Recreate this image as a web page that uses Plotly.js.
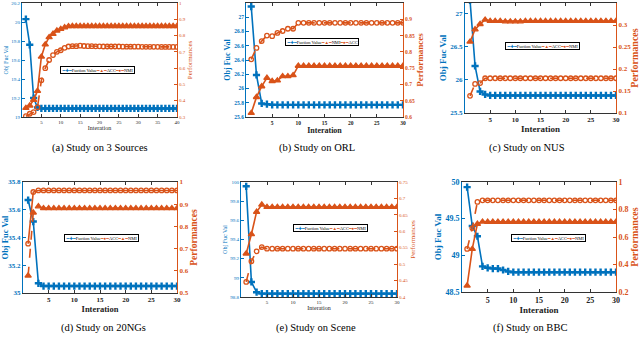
<!DOCTYPE html>
<html>
<head>
<meta charset="utf-8">
<script src="https://cdn.plot.ly/plotly-3.0.1.min.js"></script>
<style>
  html, body { margin: 0; padding: 0; background: white; }
  #graph { width: 640px; height: 350px; }
</style>
</head>
<body>
<div id="graph"></div>
<script>
// iteration indices
const iter40 = [1,2,3,4,5,6,7,8,9,10,11,12,13,14,15,16,17,18,19,20,21,22,23,24,25,26,27,28,29,30,31,32,33,34,35,36,37,38,39,40];
const iter30 = [1,2,3,4,5,6,7,8,9,10,11,12,13,14,15,16,17,18,19,20,21,22,23,24,25,26,27,28,29,30];
const xTicks40 = [5,10,15,20,25,30,35,40];
const xTicks30 = [5,10,15,20,25,30];

// (a) 3 Sources
const objA = [20.03,19.76,19.2,19.1,19.09,19.09,19.09,19.09,19.09,19.09,19.09,19.09,19.09,19.09,19.09,19.09,19.09,19.09,19.09,19.09,
              19.09,19.09,19.09,19.09,19.09,19.09,19.09,19.09,19.09,19.09,19.09,19.09,19.09,19.09,19.09,19.09,19.09,19.09,19.09,19.09];
const accA = [0.355,0.37,0.405,0.46,0.67,0.745,0.79,0.81,0.83,0.84,0.85,0.857,0.858,0.858,0.858,0.858,0.858,0.858,0.858,0.858,
              0.858,0.858,0.858,0.858,0.858,0.858,0.858,0.858,0.858,0.858,0.858,0.858,0.858,0.858,0.858,0.858,0.858,0.858,0.858,0.858];
const nmiA = [0.305,0.32,0.33,0.36,0.525,0.6,0.65,0.68,0.7,0.71,0.725,0.733,0.735,0.735,0.738,0.736,0.735,0.735,0.734,0.734,
              0.733,0.733,0.733,0.733,0.733,0.732,0.732,0.732,0.732,0.732,0.731,0.731,0.731,0.731,0.731,0.73,0.73,0.73,0.73,0.73];

// (b) ORL
const objB = [27.15,26.19,25.79,25.78,25.77,25.77,25.77,25.77,25.77,25.77,25.77,25.77,25.77,25.77,25.77,
              25.77,25.77,25.77,25.77,25.77,25.77,25.77,25.77,25.77,25.77,25.77,25.77,25.77,25.77,25.77];
const nmiB = [0.612,0.661,0.694,0.72,0.71,0.712,0.725,0.725,0.728,0.757,0.757,0.757,0.757,0.757,0.757,
              0.757,0.757,0.757,0.757,0.757,0.757,0.757,0.757,0.757,0.757,0.757,0.757,0.757,0.757,0.757];
const accB = [0.777,0.812,0.833,0.85,0.848,0.858,0.864,0.871,0.871,0.889,0.889,0.889,0.889,0.889,0.889,
              0.889,0.889,0.889,0.889,0.889,0.889,0.889,0.889,0.889,0.889,0.889,0.889,0.889,0.889,0.889];

// (c) NUS
const objC = [27.2,26.21,25.825,25.78,25.765,25.765,25.765,25.765,25.765,25.765,25.765,25.765,25.765,25.765,25.765,
              25.765,25.765,25.765,25.765,25.765,25.765,25.765,25.765,25.765,25.765,25.765,25.765,25.765,25.765,25.765];
const accC = [0.262,0.29,0.302,0.312,0.309,0.309,0.309,0.308,0.308,0.308,0.308,0.309,0.309,0.309,0.309,
              0.309,0.309,0.309,0.309,0.309,0.309,0.309,0.309,0.309,0.309,0.309,0.309,0.309,0.309,0.309];
const nmiC = [0.139,0.166,0.168,0.179,0.179,0.179,0.179,0.179,0.179,0.179,0.179,0.179,0.179,0.179,0.179,
              0.179,0.179,0.179,0.179,0.179,0.179,0.179,0.179,0.179,0.179,0.179,0.179,0.179,0.179,0.179];

// (d) 20NGs
const objD = [35.67,35.515,35.07,35.05,35.05,35.05,35.05,35.05,35.05,35.05,35.05,35.05,35.05,35.05,35.05,
              35.05,35.05,35.05,35.05,35.05,35.05,35.05,35.05,35.05,35.05,35.05,35.05,35.05,35.05,35.05];
const accD = [0.722,0.955,0.962,0.962,0.962,0.962,0.962,0.962,0.962,0.962,0.962,0.962,0.962,0.962,0.962,
              0.962,0.962,0.962,0.962,0.962,0.962,0.962,0.962,0.962,0.962,0.962,0.962,0.962,0.962,0.962];
const nmiD = [0.578,0.862,0.89,0.882,0.882,0.882,0.882,0.882,0.882,0.882,0.882,0.882,0.882,0.882,0.882,
              0.882,0.882,0.882,0.882,0.882,0.882,0.882,0.882,0.882,0.882,0.882,0.882,0.882,0.882,0.882];

// (e) Scene
const objE = [99.955,98.957,98.85,98.835,98.835,98.835,98.835,98.835,98.835,98.835,98.835,98.835,98.835,98.835,98.835,
              98.835,98.835,98.835,98.835,98.835,98.835,98.835,98.835,98.835,98.835,98.835,98.835,98.835,98.835,98.835];
const accE = [0.532,0.591,0.659,0.681,0.674,0.674,0.674,0.674,0.674,0.674,0.674,0.674,0.674,0.674,0.674,
              0.674,0.674,0.674,0.674,0.674,0.674,0.674,0.674,0.674,0.674,0.674,0.674,0.674,0.674,0.674];
const nmiE = [0.446,0.509,0.539,0.552,0.547,0.547,0.547,0.547,0.547,0.547,0.547,0.547,0.547,0.547,0.547,
              0.547,0.547,0.547,0.547,0.547,0.547,0.547,0.547,0.547,0.547,0.547,0.547,0.547,0.547,0.547];

// (f) BBC
const objF = [49.93,49.4,49.26,48.85,48.83,48.82,48.82,48.8,48.78,48.77,48.77,48.77,48.77,48.77,48.77,
              48.77,48.77,48.77,48.77,48.77,48.77,48.77,48.77,48.77,48.77,48.77,48.77,48.77,48.77,48.77];
const accF = [0.246,0.513,0.695,0.711,0.71,0.71,0.71,0.71,0.71,0.71,0.71,0.71,0.71,0.71,0.71,
              0.71,0.71,0.71,0.71,0.71,0.71,0.71,0.71,0.71,0.71,0.71,0.71,0.71,0.71,0.71];
const nmiF = [0.513,0.665,0.855,0.867,0.867,0.867,0.867,0.867,0.867,0.867,0.867,0.867,0.867,0.867,0.867,
              0.867,0.867,0.867,0.867,0.867,0.867,0.867,0.867,0.867,0.867,0.867,0.867,0.867,0.867,0.867];

const captions = ['(a) Study on 3 Sources', '(b) Study on ORL', '(c) Study on NUS',
                  '(d) Study on 20NGs', '(e) Study on Scene', '(f) Study on BBC'];

const blue = '#0072BD';
const orange = '#D95319';
const serif = 'Liberation Serif, Times New Roman, serif';

const W = 640, H = 350;
const px = v => v / W;
const py = v => 1 - v / H;

// panel boxes in pixels: [left, right, top, bottom]
const panels = [
    { box: [22, 177, 3, 117], x: iter40, xmax: 40, xt: xTicks40, obj: objA, yl: [19, 20.2], dl: 0.2, yr: [0.3, 1], dr: 0.1,
      perf: [{ name: 'ACC', y: accA, sym: 'triangle-up', dash: 'solid' }, { name: 'NMI', y: nmiA, sym: 'circle-open', dash: 'dash' }],
      tick: 5, title: 6, bold: false, legend: [60, 70], cap: [100, 148] },
    { box: [246, 403, 3, 117], x: iter30, xmax: 30, xt: xTicks30, obj: objB, yl: [25.6, 27.2], dl: 0.2, yr: [0.6, 0.95], dr: 0.05,
      perf: [{ name: 'NMI', y: nmiB, sym: 'triangle-up', dash: 'solid' }, { name: 'ACC', y: accB, sym: 'circle-open', dash: 'dash' }],
      tick: 5.5, title: 8, bold: true, legend: [285, 42], cap: [317, 148] },
    { box: [465, 616, 3, 113], x: iter30, xmax: 30, xt: xTicks30, obj: objC, yl: [25.5, 27.16], dl: 0.5, yr: [0.1, 0.35], dr: 0.05,
      perf: [{ name: 'ACC', y: accC, sym: 'triangle-up', dash: 'solid' }, { name: 'NMI', y: nmiC, sym: 'circle-open', dash: 'dash' }],
      tick: 7, title: 9, bold: true, legend: [505, 46], cap: [527, 148] },
    { box: [23, 177, 182, 293], x: iter30, xmax: 30, xt: xTicks30, obj: objD, yl: [35, 35.8], dl: 0.2, yr: [0.5, 1], dr: 0.1,
      perf: [{ name: 'ACC', y: accD, sym: 'circle-open', dash: 'solid' }, { name: 'NMI', y: nmiD, sym: 'triangle-up', dash: 'dash' }],
      tick: 7, title: 8.5, bold: true, legend: [64, 238], cap: [103, 328] },
    { box: [241, 397, 182, 297], x: iter30, xmax: 30, xt: xTicks30, obj: objE, yl: [98.8, 100], dl: 0.2, yr: [0.4, 0.75], dr: 0.05,
      perf: [{ name: 'ACC', y: accE, sym: 'triangle-up', dash: 'solid' }, { name: 'NMI', y: nmiE, sym: 'circle-open', dash: 'dash' }],
      tick: 5, title: 6, bold: false, legend: [293, 228], cap: [316, 328] },
    { box: [462, 616, 182, 292], x: iter30, xmax: 30, xt: xTicks30, obj: objF, yl: [48.5, 50], dl: 0.5, yr: [0.2, 1], dr: 0.2,
      perf: [{ name: 'ACC', y: accF, sym: 'triangle-up', dash: 'solid' }, { name: 'NMI', y: nmiF, sym: 'circle-open', dash: 'dash' }],
      tick: 8, title: 9, bold: true, legend: [511, 238], cap: [530, 328] },
];

const traces = [];
const layout = {
    width: W, height: H,
    margin: { l: 0, r: 0, t: 0, b: 0 },
    paper_bgcolor: 'white', plot_bgcolor: 'white',
    showlegend: false,
    font: { family: serif, color: '#000' },
    annotations: [],
};

panels.forEach((p, i) => {
    const xa = 'x' + (i + 1);
    const yl = 'y' + (2 * i + 1);
    const yr = 'y' + (2 * i + 2);
    const xKey = 'xaxis' + (i === 0 ? '' : i + 1);
    const ylKey = 'yaxis' + (2 * i + 1 === 1 ? '' : 2 * i + 1);
    const yrKey = 'yaxis' + (2 * i + 2);
    const weight = p.bold ? 'bold' : 'normal';
    const [l, r, t, b] = p.box;

    traces.push({
        x: p.x, y: p.obj, xaxis: xa, yaxis: yl, mode: 'lines+markers', name: 'Fuction Value',
        line: { color: blue, width: 1.6 },
        marker: { symbol: 'cross', size: 6, color: blue },
    });
    p.perf.forEach(s => {
        traces.push({
            x: p.x, y: s.y, xaxis: xa, yaxis: yr, mode: 'lines+markers', name: s.name,
            line: { color: orange, width: 1.6, dash: s.dash },
            marker: { symbol: s.sym, size: s.sym === 'circle-open' ? 4.5 : 5.5, color: orange, line: { color: orange, width: 1.3 } },
        });
    });

    layout[xKey] = {
        domain: [px(l), px(r)], anchor: yl, range: [0, p.xmax], tickvals: p.xt,
        showgrid: false, zeroline: false, showline: true, mirror: 'ticks', linecolor: '#333', linewidth: 1,
        ticks: 'inside', ticklen: 3, tickcolor: '#333',
        tickfont: { family: serif, size: p.tick, weight: weight, color: '#222' },
        title: { text: 'Interation', font: { family: serif, size: p.title, weight: weight, color: '#222' }, standoff: 1 },
    };
    layout[ylKey] = {
        domain: [py(b), py(t)], anchor: xa, range: p.yl, dtick: p.dl, tick0: 0,
        showgrid: false, zeroline: false, showline: true, linecolor: blue, linewidth: 1,
        ticks: 'inside', ticklen: 3, tickcolor: blue,
        tickfont: { family: serif, size: p.tick, weight: weight, color: blue },
        title: { text: 'Obj Fuc Val', font: { family: serif, size: p.title, weight: weight, color: blue }, standoff: 2 },
    };
    layout[yrKey] = {
        domain: [py(b), py(t)], anchor: xa, overlaying: yl, side: 'right', range: p.yr, dtick: p.dr, tick0: 0,
        showgrid: false, zeroline: false, showline: true, linecolor: orange, linewidth: 1,
        ticks: 'inside', ticklen: 3, tickcolor: orange,
        tickfont: { family: serif, size: p.tick, weight: weight, color: orange },
        title: { text: 'Performances', font: { family: serif, size: p.title + 1, weight: weight, color: orange }, standoff: 2 },
    };

    // small boxed legend, as in the source figure
    const sym = { 'triangle-up': '▲', 'circle-open': '●' };
    const legText = `<span style="color:${blue}">━✚━</span>Fuction Value` +
        p.perf.map(s => `<span style="color:${orange}">━${sym[s.sym]}━</span>${s.name}`).join('');
    layout.annotations.push({
        xref: 'paper', yref: 'paper', x: px(p.legend[0]), y: py(p.legend[1]),
        xanchor: 'left', yanchor: 'middle', showarrow: false,
        text: legText, font: { family: 'Liberation Serif, DejaVu Sans', size: 4.5, color: '#000' },
        bordercolor: '#000', borderwidth: 1, borderpad: 0.5, bgcolor: 'white',
    });

    layout.annotations.push({
        xref: 'paper', yref: 'paper', x: px(p.cap[0]), y: py(p.cap[1]),
        xanchor: 'center', yanchor: 'middle', showarrow: false,
        text: captions[i], font: { family: serif, size: 10.5, color: '#000' },
    });
});

Plotly.newPlot('graph', traces, layout, { staticPlot: true });
</script>
</body>
</html>
